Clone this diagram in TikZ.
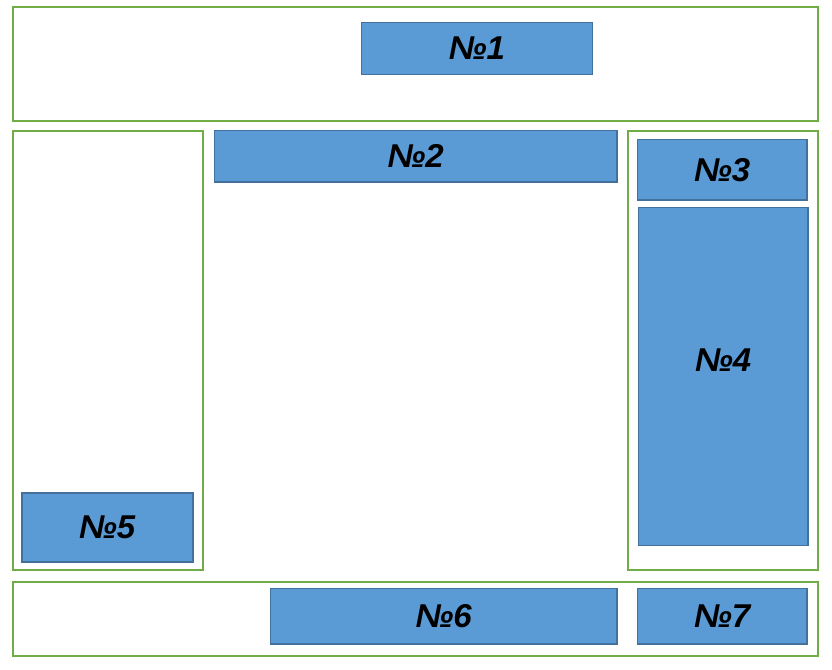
\documentclass[tikz,border=0pt]{standalone}
\usepackage{fontspec}
\setmainfont{Liberation Sans}
\usepackage{tikz}
\usetikzlibrary{positioning}
\definecolor{framegreen}{HTML}{70AD47}
\definecolor{blockblue}{HTML}{5B9BD5}
\definecolor{blockedge}{HTML}{41719C}
\tikzset{%
frame/.style={rectangle, draw=framegreen, line width=2pt, inner sep=0pt},
block/.style={rectangle, draw=blockedge, line width=1.8pt, fill=blockblue, inner sep=0pt, font=\fontsize{33}{36}\selectfont\bfseries\itshape}
}
\begin{document}
\begin{tikzpicture}[x=1pt,y=-1pt]
		\useasboundingbox (0,0) rectangle (832,669);
		% frames
		\node[frame, minimum width=805pt, minimum height=113pt] (top) at (415,64) {};
		\node[frame, minimum width=190pt, minimum height=439pt] (left) at (107.5,350) {};
		\node[frame, minimum width=189.5pt, minimum height=439pt] (right) at (722.75,350) {};
		\node[frame, minimum width=805pt, minimum height=74pt] (bottom) at (415,619) {};
		% blocks
		\node[block, minimum width=231pt, minimum height=52pt] (one) at (477,48.5) {№1};
		\node[block, minimum width=402.5pt, minimum height=51.5pt] (two) at (415.75,156.25) {№2};
		\node[block, minimum width=169.5pt, minimum height=60.5pt] (three) at (722.25,169.75) {№3};
		\node[block, minimum width=169.5pt, minimum height=338pt, text depth=32pt] (four) at (723.25,376.5) {№4};
		\node[block, minimum width=171pt, minimum height=69pt] (five) at (107.2,527.2) {№5};
		\node[block, minimum width=346.5pt, minimum height=55.5pt] (six) at (443.75,616.25) {№6};
		\node[block, minimum width=169.5pt, minimum height=55.5pt] (seven) at (722.25,616.25) {№7};
	\end{tikzpicture}
\end{document}
